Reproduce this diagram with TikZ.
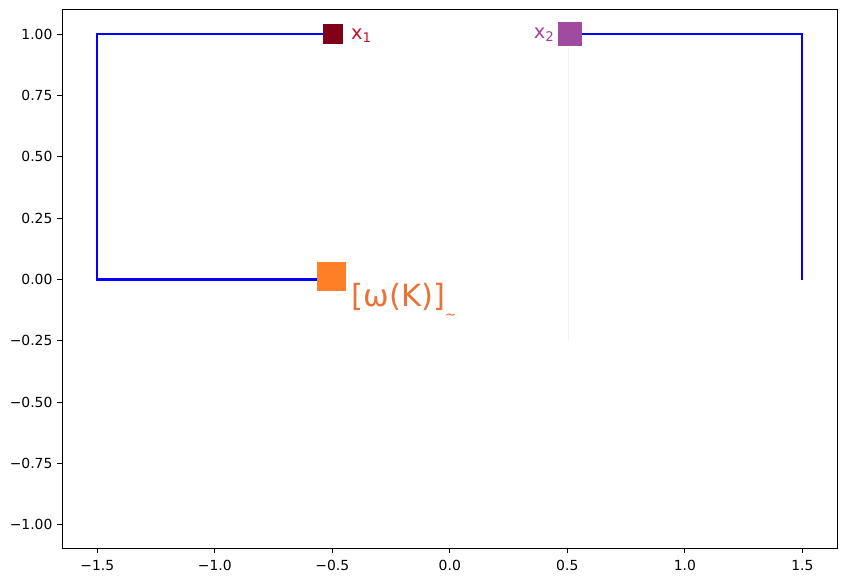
\documentclass[tikz,border=0pt]{standalone}
\usepackage{fontspec}
\setmainfont{DejaVu Sans}
\definecolor{mkA}{HTML}{800018}
\definecolor{lbA}{HTML}{C8102A}
\definecolor{mkB}{HTML}{A04AA0}
\definecolor{lbB}{HTML}{A0409A}
\definecolor{mkC}{HTML}{FF7F27}
\definecolor{lbC}{HTML}{EB7236}
\definecolor{faint}{HTML}{FDEAF2}
\newcommand{\mysub}[1]{\raisebox{-3.5pt}{\fontsize{13.3}{15}\selectfont #1}}
\begin{document}
\begin{tikzpicture}[x=235pt,y=245.2pt,
  marker/.style={rectangle,draw=none,inner sep=0pt,minimum size=#1},
  blueline/.style={draw=blue,line width=2.1pt},
  ticklbl/.style={inner sep=0pt,font=\fontsize{13.9}{16}\selectfont},
  frame/.style={line width=1.1pt}]
\useasboundingbox (-1.9140,-1.2337) rectangle (1.6902,1.1399);
% markers
\node[marker=20pt,fill=mkA] (x1) at (-0.4965,1) {};
\node[marker=24pt,fill=mkB] (x2) at (0.5125,1) {};
\node[marker=29pt,fill=mkC] (om) at (-0.5040,0.0114) {};
\coordinate (c1) at (-1.5,1);
\coordinate (c2) at (-1.5,0);
\coordinate (c3) at (1.5,1);
\coordinate (c4) at (1.5,0);
\coordinate (pk) at (0.5036,-0.25);
% connectors
\draw[faint,line width=1pt] (0.5036,0.95) -- (pk);
\draw[blueline] (x1.west) -- (c1) -- (c2) -- (om.west|-c2);
\draw[blueline] (x2.east) -- (c3) -- (c4);
% labels
\node[anchor=base west,inner sep=0pt,text=lbA,font=\fontsize{19.4}{22}\selectfont] (l1) at (-0.4204,0.9796) {x\mysub{1}};
\node[anchor=base east,inner sep=0pt,text=lbB,font=\fontsize{19.4}{22}\selectfont] (l2) at (0.4440,0.9835) {x\mysub{2}};
\node[anchor=base west,inner sep=0pt,text=lbC,font=\fontsize{30.6}{36}\selectfont] (l3) at (-0.4190,-0.1109) {[ω(K)]\raisebox{-13pt}{\fontsize{14}{16}\selectfont ∼}};
% axes frame
\draw[frame] (-1.649,-1.096) rectangle (1.649,1.101);
\foreach \v/\t in {-1.5/−1.5,-1.0/−1.0,-0.5/−0.5,0/0.0,0.5/0.5,1.0/1.0,1.5/1.5}{
  \draw[frame] (\v,-1.096) -- ++(0,-4.9pt);
  \node[ticklbl,anchor=base] at (\v,-1.1848) {\t};
}
\foreach \v/\t in {-1.0/−1.00,-0.75/−0.75,-0.5/−0.50,-0.25/−0.25,0/0.00,0.25/0.25,0.5/0.50,0.75/0.75,1.0/1.00}{
  \draw[frame] (-1.649,\v) -- ++(-4.9pt,0);
  \node[ticklbl,anchor=base east] at (-1.690,\v) [yshift=-5pt] {\t};
}
\end{tikzpicture}
\end{document}
